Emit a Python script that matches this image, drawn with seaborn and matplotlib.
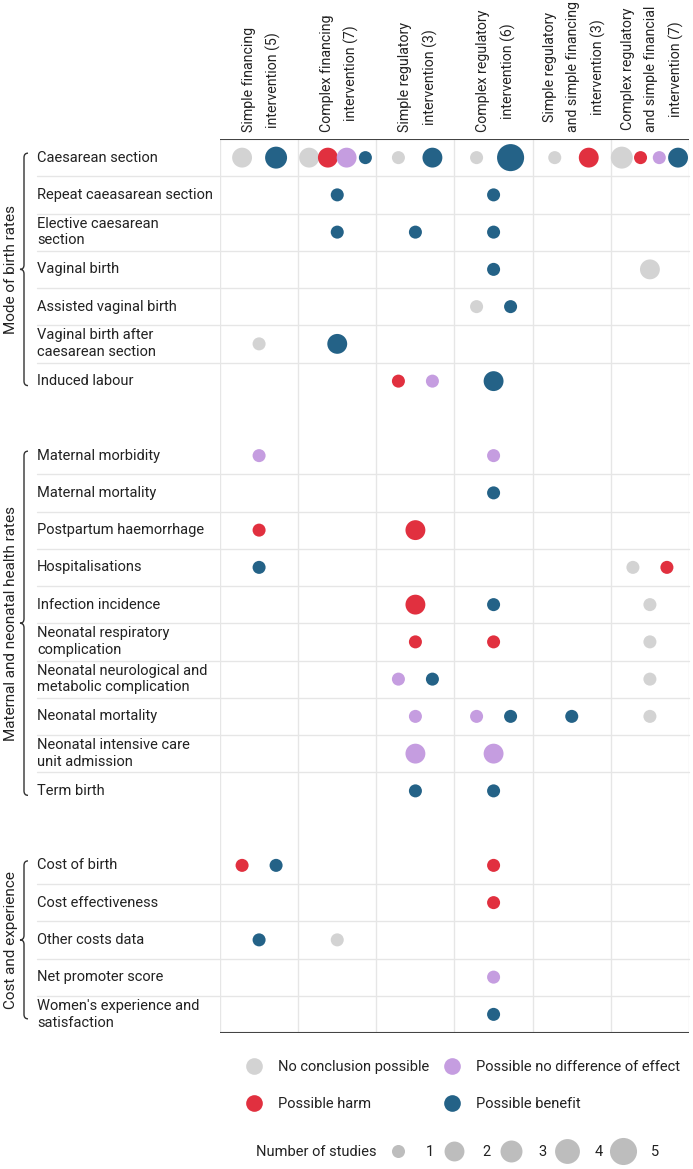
import textwrap
import numpy as np
import pandas as pd
import matplotlib.pyplot as plt
import matplotlib.transforms as mtransforms
from matplotlib.path import Path
from matplotlib.patches import PathPatch
from matplotlib.lines import Line2D
import seaborn as sns

# columns (intervention types, number of studies in brackets)
interventions = [
    "Simple financing\nintervention (5)",
    "Complex financing\nintervention (7)",
    "Simple regulatory\nintervention (3)",
    "Complex regulatory\nintervention (6)",
    "Simple regulatory\nand simple financing\nintervention (3)",
    "Complex regulatory\nand simple financial\nintervention (7)",
]

groups = ["Mode of birth rates", "Maternal and neonatal health rates", "Cost and experience"]
mode_outcomes = [
    "Caesarean section", "Repeat caeasarean section", "Elective caesarean section",
    "Vaginal birth", "Assisted vaginal birth", "Vaginal birth after caesarean section",
    "Induced labour",
]
health_outcomes = [
    "Maternal morbidity", "Maternal mortality", "Postpartum haemorrhage",
    "Hospitalisations", "Infection incidence", "Neonatal respiratory complication",
    "Neonatal neurological and metabolic complication", "Neonatal mortality",
    "Neonatal intensive care unit admission", "Term birth",
]
cost_outcomes = [
    "Cost of birth", "Cost effectiveness", "Other costs data", "Net promoter score",
    "Women's experience and satisfaction",
]

effects = ["No conclusion possible", "Possible harm",
           "Possible no difference of effect", "Possible benefit"]
effect_colors = ["#d3d3d3", "#e1303f", "#c59de0", "#246287"]
study_counts = [1, 2, 3, 4, 5]

# (outcome, intervention column 1-6, number of studies)
no_conclusion = [
    ("Caesarean section", 1, 2), ("Caesarean section", 2, 2), ("Caesarean section", 3, 1),
    ("Caesarean section", 4, 1), ("Caesarean section", 5, 1), ("Caesarean section", 6, 3),
    ("Vaginal birth", 6, 2), ("Assisted vaginal birth", 4, 1),
    ("Vaginal birth after caesarean section", 1, 1),
    ("Hospitalisations", 6, 1), ("Infection incidence", 6, 1),
    ("Neonatal respiratory complication", 6, 1),
    ("Neonatal neurological and metabolic complication", 6, 1),
    ("Neonatal mortality", 6, 1), ("Other costs data", 2, 1),
]
possible_harm = [
    ("Caesarean section", 2, 2), ("Caesarean section", 5, 2), ("Caesarean section", 6, 1),
    ("Induced labour", 3, 1), ("Postpartum haemorrhage", 1, 1), ("Postpartum haemorrhage", 3, 2),
    ("Hospitalisations", 6, 1), ("Infection incidence", 3, 2),
    ("Neonatal respiratory complication", 3, 1), ("Neonatal respiratory complication", 4, 1),
    ("Cost of birth", 1, 1), ("Cost of birth", 4, 1), ("Cost effectiveness", 4, 1),
]
no_difference = [
    ("Caesarean section", 2, 2), ("Caesarean section", 6, 1), ("Induced labour", 3, 1),
    ("Maternal morbidity", 1, 1), ("Maternal morbidity", 4, 1),
    ("Neonatal neurological and metabolic complication", 3, 1),
    ("Neonatal mortality", 3, 1), ("Neonatal mortality", 4, 1),
    ("Neonatal intensive care unit admission", 3, 2),
    ("Neonatal intensive care unit admission", 4, 2),
    ("Net promoter score", 4, 1),
]
possible_benefit = [
    ("Caesarean section", 1, 3), ("Caesarean section", 2, 1), ("Caesarean section", 3, 2),
    ("Caesarean section", 4, 5), ("Caesarean section", 6, 2),
    ("Repeat caeasarean section", 2, 1), ("Repeat caeasarean section", 4, 1),
    ("Elective caesarean section", 2, 1), ("Elective caesarean section", 3, 1),
    ("Elective caesarean section", 4, 1), ("Vaginal birth", 4, 1),
    ("Assisted vaginal birth", 4, 1), ("Vaginal birth after caesarean section", 2, 2),
    ("Induced labour", 4, 2), ("Maternal mortality", 4, 1), ("Hospitalisations", 1, 1),
    ("Infection incidence", 4, 1), ("Neonatal neurological and metabolic complication", 3, 1),
    ("Neonatal mortality", 4, 1), ("Neonatal mortality", 5, 1),
    ("Term birth", 3, 1), ("Term birth", 4, 1), ("Cost of birth", 1, 1),
    ("Other costs data", 1, 1), ("Women's experience and satisfaction", 4, 1),
]

# ---- build table
group_outcomes = [mode_outcomes, health_outcomes, cost_outcomes]
ypos = {}
y = 0
for outs in group_outcomes:
    for o in outs:
        ypos[o] = y
        y += 1
    y += 1
n_rows = y - 1

recs = []
for eff, lst in zip(effects, [no_conclusion, possible_harm, no_difference, possible_benefit]):
    for outcome, col, n in lst:
        recs.append(dict(outcome=outcome, col=col - 1, effect=eff, studies=n))
df = pd.DataFrame(recs)
df["y"] = df["outcome"].map(ypos)
df["erank"] = df["effect"].map({e: i for i, e in enumerate(effects)})
df = df.sort_values(["y", "col", "erank"]).reset_index(drop=True)
df["k"] = df.groupby(["y", "col"]).cumcount()
df["n"] = df.groupby(["y", "col"])["effect"].transform("size")
step = np.minimum(0.435, 0.96 / df["n"])
df["x"] = df["col"] + (df["k"] - (df["n"] - 1) / 2) * step

sns.set_style("white")
plt.rcParams["font.family"] = ["Roboto", "DejaVu Sans"]
text_col = "#222222"
grid_col = "#e6e6e6"
fs = 10.5

W, H = 693, 1169
fig = plt.figure(figsize=(W / 100, H / 100), dpi=100)
ax = fig.add_axes([220 / W, 1 - 1033 / H, 469 / W, (1033 - 139) / H])

size_map = {1: 88, 2: 205, 3: 250, 4: 320, 5: 380}
sns.scatterplot(data=df, x="x", y="y", hue="effect", hue_order=effects,
                palette=dict(zip(effects, effect_colors)), size="studies",
                sizes=size_map, linewidth=0, legend=False, ax=ax, zorder=3)

ax.set_xlim(-0.5, len(interventions) - 0.5)
ax.set_ylim(n_rows - 0.5, -0.5)
ax.set_xticks([])
ax.set_yticks([])
ax.set_xlabel("")
ax.set_ylabel("")
for s in ax.spines.values():
    s.set_visible(False)

# vertical column separators
for i in range(len(interventions) + 1):
    ax.axvline(i - 0.5, color=grid_col, lw=1, zorder=1)
ax.axhline(-0.5, color="#444444", lw=1.5, zorder=4)
ax.axhline(n_rows - 0.5, color="#444444", lw=1.5, zorder=4)

# column headers
for i, lab in enumerate(interventions):
    ax.text(i + 0.03, -0.68, lab, rotation=90, ha="center", va="bottom", fontsize=10.2,
            linespacing=1.85, color=text_col)

blend = mtransforms.blended_transform_factory(fig.transFigure, ax.transData)
x_lab = 37 / W
for g, outs in zip(groups, group_outcomes):
    for j, o in enumerate(outs):
        ax.text(x_lab, ypos[o], textwrap.fill(o, 25), transform=blend, ha="left",
                va="center", fontsize=fs, linespacing=1.25, color=text_col)
        if j < len(outs) - 1:
            ax.plot([x_lab, 689 / W], [ypos[o] + 0.5] * 2, transform=blend,
                    color=grid_col, lw=1, clip_on=False, zorder=1)
    top, bot = ypos[outs[0]] - 0.12, ypos[outs[-1]] + 0.12
    mid = (top + bot) / 2
    xh, xv, xn = 28 / W, 24 / W, 20 / W
    d = 0.12
    verts = [(xh, top), (xv, top), (xv, top + d), (xv, mid - d), (xv, mid), (xn, mid),
             (xv, mid), (xv, mid + d), (xv, bot - d), (xv, bot), (xh, bot)]
    codes = [Path.MOVETO, Path.CURVE3, Path.CURVE3, Path.LINETO, Path.CURVE3, Path.CURVE3,
             Path.CURVE3, Path.CURVE3, Path.LINETO, Path.CURVE3, Path.CURVE3]
    ax.add_patch(PathPatch(Path(verts, codes), transform=blend, fill=False,
                           edgecolor="#333333", lw=1, clip_on=False))
    ax.text(11 / W, mid, g, transform=blend, rotation=90, ha="center", va="center",
            fontsize=11, color=text_col)

# legends
handles = [Line2D([], [], marker="o", ls="", markersize=12, markeredgewidth=0,
                  color=c) for c in effect_colors]
leg1 = fig.legend(handles, effects, ncol=2, loc="center left",
                  bbox_to_anchor=(233.6 / W, 1 - 1085.5 / H), frameon=False, fontsize=fs,
                  borderaxespad=0, handletextpad=0.65, columnspacing=0.58,
                  labelspacing=1.6)
for t in leg1.get_texts():
    t.set_color(text_col)

size_handles = [Line2D([], [], marker="o", ls="", markersize=np.sqrt(size_map[k]),
                       markeredgewidth=0, color="#bdbdbd") for k in study_counts]
leg2 = fig.legend(size_handles, [str(k) for k in study_counts], ncol=5,
                  loc="center left", bbox_to_anchor=(377.6 / W, 1 - 1152 / H),
                  frameon=False, fontsize=fs, borderaxespad=0, handletextpad=0.92,
                  columnspacing=0.38)
for t in leg2.get_texts():
    t.set_color(text_col)
fig.text(256 / W, 1 - 1152 / H, "Number of studies", ha="left", va="center",
         fontsize=fs, color=text_col)

fig.savefig("out.png", dpi=100)
